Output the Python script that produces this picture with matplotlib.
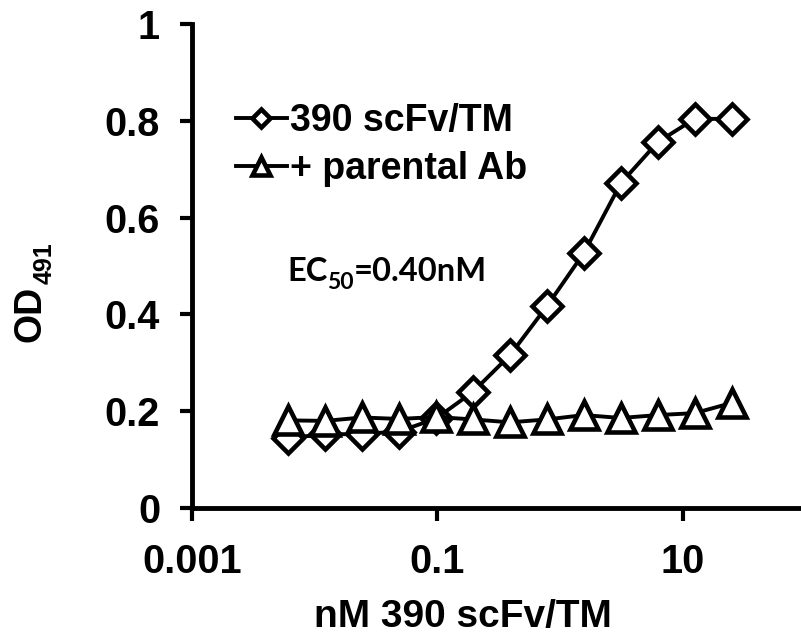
import numpy as np
import matplotlib
matplotlib.use('Agg')
from matplotlib import pyplot as plt

# data
conc = [0.0061, 0.0122, 0.0244, 0.0488, 0.0977, 0.195, 0.391, 0.781, 1.5625, 3.125, 6.25, 12.5, 25]
od_scfv = [0.145, 0.152, 0.153, 0.158, 0.185, 0.240, 0.316, 0.417, 0.527, 0.671, 0.756, 0.804, 0.804]
od_parental = [0.181, 0.180, 0.187, 0.184, 0.188, 0.183, 0.177, 0.183, 0.192, 0.186, 0.192, 0.196, 0.217]
xticks = [0.001, 0.1, 10]
xtick_labels = ['0.001', '0.1', '10']
yticks = [0, 0.2, 0.4, 0.6, 0.8, 1]
ytick_labels = ['0', '0.2', '0.4', '0.6', '0.8', '1']

plt.rcParams['font.family'] = 'Liberation Sans'
plt.rcParams['font.weight'] = 'bold'

W, H = 801, 635
fig = plt.figure(figsize=(W / 100, H / 100), dpi=100)
# y axis at x=192px, 0.001..100 over 5 decades of 122.7px, y 0 at 508px, 1 at 24px
ax = fig.add_axes([192 / W, (H - 508) / H, 5 * 122.7 / W, 484 / H])

ax.plot(conc, od_scfv, color='black', lw=2.8, marker='D', ms=15, mfc='white',
        mec='black', mew=3.3, label='390 scFv/TM', zorder=3)
ax.plot(conc, od_parental, color='black', lw=2.8, marker='^', ms=20.5, mfc='white',
        mec='black', mew=3.3, label='+ parental Ab', zorder=4)

ax.set_xscale('log')
ax.set_xlim(0.001, 100)
ax.set_ylim(0, 1)
ax.set_xticks(xticks)
ax.set_xticklabels(xtick_labels)
ax.xaxis.set_minor_locator(matplotlib.ticker.NullLocator())
ax.set_yticks(yticks)
ax.set_yticklabels(ytick_labels)
ax.tick_params(axis='both', labelsize=28.5, width=3, length=9, direction='out')
ax.tick_params(axis='x', pad=16)
ax.tick_params(axis='y', pad=14)
for s in ['top', 'right']:
    ax.spines[s].set_visible(False)
for s in ['left', 'bottom']:
    ax.spines[s].set_linewidth(3.5)

ax.set_xlabel('nM 390 scFv/TM', fontsize=28, fontweight='bold', va='baseline')
ax.xaxis.set_label_coords((463 - 192) / (5 * 122.7), -(627 - 508) / 484)

# y label with subscript
fig.text(31 / W, 1 - 314 / H, 'OD', rotation=90, fontsize=27, fontweight='bold',
         ha='center', va='center')
fig.text(45 / W, 1 - 263 / H, '491', rotation=90, fontsize=18, fontweight='bold',
         ha='center', va='center')

leg = ax.legend(loc='upper left', bbox_to_anchor=(236 / W, 1 - 103 / H),
                bbox_transform=fig.transFigure, frameon=False, fontsize=27,
                handlelength=1.35, handletextpad=0.08, labelspacing=0.33,
                borderpad=0, borderaxespad=0, markerscale=0.6)

# EC50 annotation
fig.canvas.draw()
r = fig.canvas.get_renderer()
x0, yb = 287 / W, 1 - 281 / H
t1 = fig.text(x0, yb, 'EC', fontsize=23.5, fontfamily='Lato', fontweight='bold', va='baseline')
bb = t1.get_window_extent(r)
t2 = fig.text(bb.x1 / W, yb - 8 / H, '50', fontsize=16.5, fontfamily='Lato', fontweight='bold', va='baseline')
bb = t2.get_window_extent(r)
fig.text(bb.x1 / W, yb, '=0.40nM', fontsize=23.5, fontfamily='Lato', fontweight='bold', va='baseline')

fig.savefig('out.png', dpi=100)
